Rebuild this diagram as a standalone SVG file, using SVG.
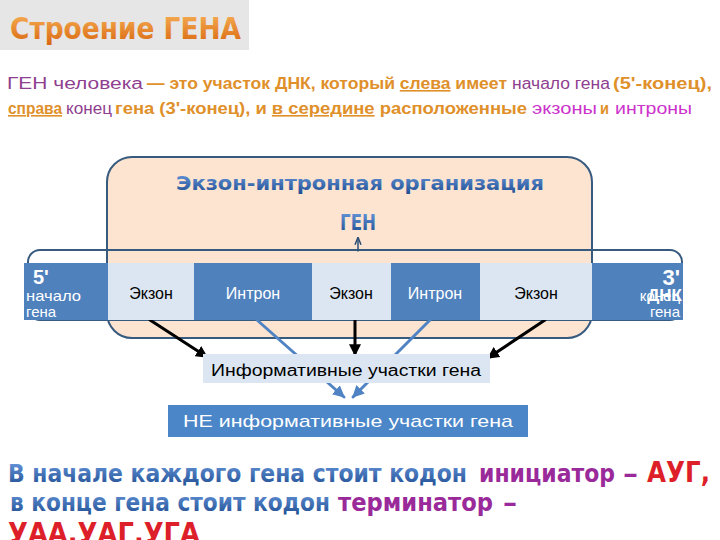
<svg xmlns="http://www.w3.org/2000/svg" width="720" height="540" viewBox="0 0 720 540">
<defs>
<linearGradient id="gOr" x1="0" y1="0" x2="0" y2="1"><stop offset="0" stop-color="#f9b55a"/><stop offset="1" stop-color="#d8650e"/></linearGradient>
<linearGradient id="gBl" x1="0" y1="0" x2="0" y2="1"><stop offset="0" stop-color="#6b9be0"/><stop offset="1" stop-color="#1c4a8e"/></linearGradient>
<marker id="ak" viewBox="0 0 10 10" refX="9" refY="5" markerWidth="4" markerHeight="4" orient="auto"><path d="M0,0 L10,5 L0,10 z" fill="#000"/></marker>
<marker id="ab" viewBox="0 0 10 10" refX="9" refY="5" markerWidth="4" markerHeight="4" orient="auto"><path d="M0,0 L10,5 L0,10 z" fill="#4f83c4"/></marker>
<marker id="au" viewBox="0 0 10 10" refX="9" refY="5" markerWidth="5" markerHeight="5" orient="auto"><path d="M0,1 L10,5 L0,9" fill="none" stroke="#2c4f78" stroke-width="2"/></marker>
</defs>
<style>
.s{font-family:"Liberation Sans",Arial,sans-serif}
.d{font-family:"DejaVu Sans",Verdana,sans-serif;font-weight:bold}
.or{fill:#e0902a;font-weight:bold}
.pu{fill:#8f3f8f}
.mg{fill:#cc33cc}
.ul{text-decoration:underline}
.bl{fill:url(#gBl)}
.lt{fill:#dce6f2}
.dk{fill:#4f81bd}
.wt{fill:#fff}
.bk{fill:#000}
</style>
<rect width="720" height="540" fill="#fff"/>
<g id="title">
<rect x="0" y="0" width="249" height="50" fill="#e6e6e6"/>
<text class="d" x="10" y="39" font-size="31" fill="url(#gOr)" textLength="231" lengthAdjust="spacingAndGlyphs">Строение ГЕНА</text>
</g>
<g id="definition" class="s" font-size="16">
<text class="pu" x="7" y="89" textLength="136" lengthAdjust="spacingAndGlyphs">ГЕН человека</text>
<text class="or" x="147" y="89" textLength="360" lengthAdjust="spacingAndGlyphs">— это участок ДНК, который <tspan class="ul">слева</tspan> имеет</text>
<text class="pu" x="512" y="89" textLength="98" lengthAdjust="spacingAndGlyphs">начало гена</text>
<text class="or" x="613" y="89" textLength="99" lengthAdjust="spacingAndGlyphs">(5'-конец),</text>
<text class="or ul" x="8" y="114" textLength="54" lengthAdjust="spacingAndGlyphs">справа</text>
<text class="pu" x="66" y="114" textLength="46" lengthAdjust="spacingAndGlyphs">конец</text>
<text class="or" x="115" y="114" textLength="412" lengthAdjust="spacingAndGlyphs">гена (3'-конец), и <tspan class="ul">в середине</tspan> расположенные</text>
<text class="mg" x="532" y="114" textLength="65" lengthAdjust="spacingAndGlyphs">экзоны</text>
<text class="or" x="600" y="114" textLength="9" lengthAdjust="spacingAndGlyphs">и</text>
<text class="mg" x="615" y="114" textLength="77" lengthAdjust="spacingAndGlyphs">интроны</text>
</g>
<g id="frame">
<rect x="107" y="157" width="485" height="181" rx="25" fill="#fde4d0" stroke="#375a7f" stroke-width="2"/>
<rect x="28" y="250" width="654" height="70" rx="12" fill="none" stroke="#375a7f" stroke-width="2"/>
<text class="d bl" x="360" y="190" font-size="20" text-anchor="middle" textLength="368" lengthAdjust="spacingAndGlyphs">Экзон-интронная организация</text>
<text class="d bl" x="358" y="230" font-size="22" text-anchor="middle" textLength="36" lengthAdjust="spacingAndGlyphs">ГЕН</text>
</g>
<g id="connectors" stroke-linecap="round">
<line x1="358" y1="251" x2="358" y2="238" stroke="#2c4f78" stroke-width="1.5" marker-end="url(#au)"/>
<line x1="257" y1="320" x2="344" y2="397" stroke="#4f83c4" stroke-width="3" marker-end="url(#ab)"/>
<line x1="430" y1="320" x2="353" y2="397" stroke="#4f83c4" stroke-width="3" marker-end="url(#ab)"/>
<line x1="150" y1="320" x2="207" y2="357" stroke="#000" stroke-width="3" marker-end="url(#ak)"/>
<line x1="355" y1="320" x2="355" y2="355" stroke="#000" stroke-width="3" marker-end="url(#ak)"/>
<line x1="545" y1="320" x2="488" y2="358" stroke="#000" stroke-width="3" marker-end="url(#ak)"/>
</g>
<g id="gene" class="s">
<g id="end5"><rect class="dk" x="24" y="263" width="84" height="57"/>
<text class="wt" x="33" y="284" font-size="20" font-weight="bold">5'</text>
<text class="wt" x="26" y="301" font-size="15" textLength="55" lengthAdjust="spacingAndGlyphs">начало</text>
<text class="wt" x="26" y="317" font-size="15">гена</text></g>
<g id="exon1"><rect class="lt" x="108" y="263" width="86" height="57"/><text class="bk" x="151" y="299" font-size="16" text-anchor="middle">Экзон</text></g>
<g id="intron1"><rect class="dk" x="194" y="263" width="118" height="57"/><text class="wt" x="253" y="299" font-size="16" text-anchor="middle">Интрон</text></g>
<g id="exon2"><rect class="lt" x="312" y="263" width="79" height="57"/><text class="bk" x="351" y="299" font-size="16" text-anchor="middle">Экзон</text></g>
<g id="intron2"><rect class="dk" x="391" y="263" width="89" height="57"/><text class="wt" x="435" y="299" font-size="16" text-anchor="middle">Интрон</text></g>
<g id="exon3"><rect class="lt" x="480" y="263" width="112" height="57"/><text class="bk" x="536" y="299" font-size="16" text-anchor="middle">Экзон</text></g>
<g id="end3"><rect class="dk" x="592" y="263" width="91" height="57"/>
<text class="wt" x="680" y="285" font-size="22" font-weight="bold" text-anchor="end">3'</text>
<text class="wt" x="680" y="301" font-size="15" text-anchor="end">конец</text>
<text class="wt" x="682" y="301" font-size="17" font-weight="bold" text-anchor="end">ДНК</text>
<text class="wt" x="680" y="317" font-size="15" text-anchor="end">гена</text></g>
</g>
<g id="informative" class="s">
<rect class="lt" x="203" y="354" width="287" height="29"/>
<text class="bk" x="346" y="376" font-size="16" text-anchor="middle" textLength="270" lengthAdjust="spacingAndGlyphs">Информативные участки гена</text>
</g>
<g id="noninformative" class="s">
<rect x="168" y="405" width="360" height="32" fill="#4a86c8"/>
<text class="wt" x="348" y="427" font-size="17" text-anchor="middle" textLength="330" lengthAdjust="spacingAndGlyphs">НЕ информативные участки гена</text>
</g>
<g id="codons" class="d">
<text class="bl" x="8" y="482" font-size="24" textLength="459" lengthAdjust="spacingAndGlyphs">В начале каждого гена стоит кодон</text>
<text x="479" y="482" font-size="24" fill="#9a2a9a" textLength="136" lengthAdjust="spacingAndGlyphs">инициатор</text>
<text x="623" y="482" font-size="24" fill="#9a2a9a" textLength="15" lengthAdjust="spacingAndGlyphs">–</text>
<text x="647" y="482" font-size="28" fill="#dd1f2a" textLength="63" lengthAdjust="spacingAndGlyphs">АУГ,</text>
<text class="bl" x="10" y="511" font-size="24" textLength="320" lengthAdjust="spacingAndGlyphs">в конце гена стоит кодон</text>
<text x="338" y="511" font-size="24" fill="#9a2a9a" textLength="155" lengthAdjust="spacingAndGlyphs">терминатор</text>
<text x="503" y="511" font-size="24" fill="#9a2a9a" textLength="14" lengthAdjust="spacingAndGlyphs">–</text>
<text x="8" y="543" font-size="29" fill="#dd1f2a" textLength="192" lengthAdjust="spacingAndGlyphs">УАА,УАГ,УГА</text>
</g>
</svg>
